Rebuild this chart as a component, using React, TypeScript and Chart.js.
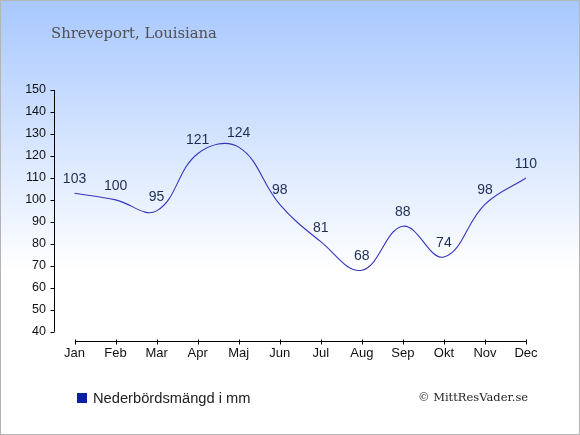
import React, { useEffect, useRef } from "react";
import { Chart, registerables } from "chart.js";

Chart.register(...registerables);

const months = ["Jan", "Feb", "Mar", "Apr", "Maj", "Jun", "Jul", "Aug", "Sep", "Okt", "Nov", "Dec"];
const precipitation = [103, 100, 95, 121, 124, 98, 81, 68, 88, 74, 98, 110];
const yTicks = [40, 50, 60, 70, 80, 90, 100, 110, 120, 130, 140, 150];
const titleText = "Shreveport, Louisiana";
const legendText = "Nederbördsmängd i mm";
const creditText = "© MittResVader.se";

const LINE_COLOR = "#3535bd";
const LABEL_COLOR = "#1e2e52";

const axesPlugin = {
  id: "customAxes",
  afterDraw(chart: any) {
    const ctx = chart.ctx;
    const x = chart.scales.x;
    const y = chart.scales.y;
    const area = chart.chartArea;
    ctx.save();
    ctx.strokeStyle = "#000";
    ctx.lineWidth = 1;
    // y axis
    const yTop = y.getPixelForValue(yTicks[yTicks.length - 1]);
    const yBot = y.getPixelForValue(yTicks[0]);
    const ax = Math.round(area.left) + 0.5;
    ctx.beginPath();
    ctx.moveTo(ax, yTop);
    ctx.lineTo(ax, yBot);
    for (const v of yTicks) {
      const py = Math.round(y.getPixelForValue(v)) + 0.5;
      ctx.moveTo(ax - 4, py);
      ctx.lineTo(ax, py);
    }
    ctx.stroke();
    // x axis
    const ay = Math.round(area.bottom) + 0.5;
    const x0 = x.getPixelForValue(0);
    const x1 = x.getPixelForValue(months.length - 1);
    ctx.beginPath();
    ctx.moveTo(Math.round(x0) + 0.5, ay);
    ctx.lineTo(Math.round(x1) + 0.5, ay);
    for (let i = 0; i < months.length; i++) {
      const px = Math.round(x.getPixelForValue(i)) + 0.5;
      ctx.moveTo(px, ay - 2);
      ctx.lineTo(px, ay + 3);
    }
    ctx.stroke();
    // data labels
    const meta = chart.getDatasetMeta(0);
    ctx.fillStyle = LABEL_COLOR;
    ctx.font = "14px 'Liberation Sans', Arial, sans-serif";
    ctx.textAlign = "center";
    ctx.textBaseline = "middle";
    meta.data.forEach((pt: any, i: number) => {
      ctx.fillText(String(precipitation[i]), pt.x, pt.y - 14);
    });
    ctx.restore();
  },
};

export default function App() {
  const ref = useRef<HTMLCanvasElement>(null);
  useEffect(() => {
    document.body.style.margin = "0";
    const chart = new Chart(ref.current!, {
      type: "line",
      data: {
        labels: months,
        datasets: [
          {
            label: legendText,
            data: precipitation,
            borderColor: LINE_COLOR,
            borderWidth: 1.1,
            pointRadius: 0,
            tension: 0.4,
            fill: false,
          },
        ],
      },
      options: {
        responsive: false,
        animation: false,
        devicePixelRatio: 1,
        layout: { padding: { left: 0, right: 33.5, top: 90, bottom: 0 } },
        plugins: { legend: { display: false }, title: { display: false }, tooltip: { enabled: false } },
        scales: {
          x: {
            type: "category",
            offset: true,
            grid: { display: false, drawTicks: false },
            border: { display: false },
            ticks: {
              color: "#111",
              font: { family: "'Liberation Sans', Arial, sans-serif", size: 13 },
              padding: 5,
              maxRotation: 0,
              autoSkip: false,
            },
            afterFit(scale: any) {
              scale.height = 94;
            },
          },
          y: {
            min: 35.8,
            max: 150,
            grid: { display: false, drawTicks: false },
            border: { display: false },
            afterBuildTicks(scale: any) {
              scale.ticks = yTicks.map((v) => ({ value: v }));
            },
            ticks: {
              color: "#111",
              font: { family: "'Liberation Sans', Arial, sans-serif", size: 12.5 },
              padding: 8,
            },
            afterFit(scale: any) {
              scale.width = 54;
            },
          },
        },
      },
      plugins: [axesPlugin],
    });
    return () => chart.destroy();
  }, []);

  return (
    <div
      style={{
        position: "fixed",
        left: 0,
        top: 0,
        width: 580,
        height: 435,
        boxSizing: "border-box",
        border: "1px solid #b4b4b4",
        background: "linear-gradient(to bottom, #a8c8ff 0px, #ffffff 270px, #ffffff 435px)",
        overflow: "hidden",
      }}
    >
      <canvas ref={ref} width={580} height={435} style={{ position: "absolute", left: -1, top: -1 }} />
      <div
        style={{
          position: "absolute",
          left: 50,
          top: 23,
          fontFamily: "'DejaVu Serif', serif",
          fontSize: 14.8,
          color: "#505050",
          whiteSpace: "nowrap",
        }}
      >
        {titleText}
      </div>
      <div
        style={{
          position: "absolute",
          left: 76,
          top: 389,
          display: "flex",
          alignItems: "center",
          fontFamily: "'Liberation Sans', Arial, sans-serif",
          fontSize: 14.7,
          color: "#222",
          whiteSpace: "nowrap",
        }}
      >
        <span style={{ display: "inline-block", width: 10, height: 10, background: "#0a1eaa", marginRight: 6 }} />
        {legendText}
      </div>
      <div
        style={{
          position: "absolute",
          left: 417,
          top: 389,
          fontFamily: "'DejaVu Serif', serif",
          fontSize: 11.5,
          color: "#222",
          whiteSpace: "nowrap",
        }}
      >
        {creditText}
      </div>
    </div>
  );
}
